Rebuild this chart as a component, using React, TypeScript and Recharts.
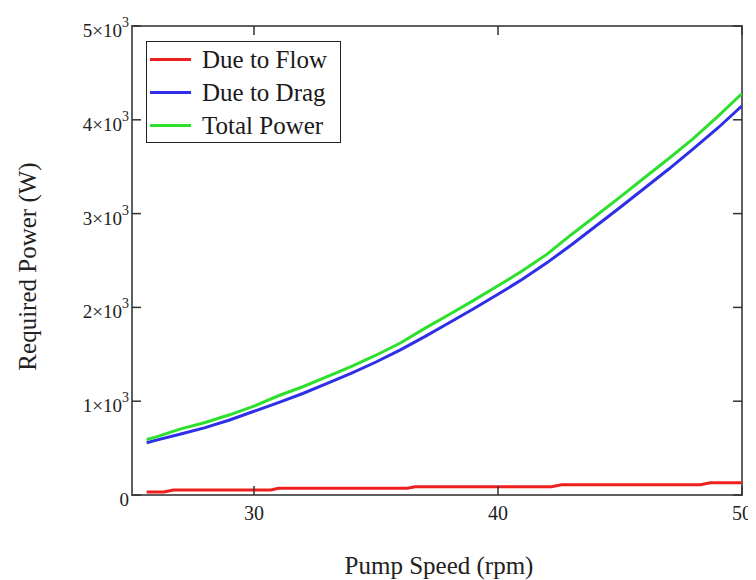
import React from "react";
import { LineChart, Line, XAxis, YAxis, Legend, Label, ReferenceArea } from "recharts";

// ---- data ----
const rpm = [25.6, 26, 27, 28, 29, 30, 31, 32, 33, 34, 35, 36, 37, 38, 39, 40, 41, 42, 43, 44, 45, 46, 47, 48, 49, 50];
const dragPower = [557, 585, 650, 718, 800, 893, 985, 1082, 1190, 1300, 1418, 1548, 1688, 1836, 1985, 2140, 2300, 2475, 2665, 2865, 3065, 3270, 3475, 3690, 3910, 4150];
const totalPower = [592, 620, 705, 773, 855, 948, 1058, 1154, 1262, 1372, 1490, 1620, 1776, 1924, 2075, 2230, 2390, 2565, 2775, 2975, 3175, 3382, 3587, 3800, 4035, 4280];
const flowRpm = [25.6, 26.3, 26.7, 30.7, 31.0, 36.3, 36.6, 42.2, 42.6, 48.3, 48.7, 50];
const flowPower = [32, 32, 53, 53, 71, 71, 88, 88, 110, 110, 131, 131];

const xTicks = [30, 40, 50];
const yTicks = [0, 1000, 2000, 3000, 4000, 5000];
const seriesNames = ["Due to Flow", "Due to Drag", "Total Power"];
const seriesColors = ["#ee1f1f", "#2f2fe8", "#2ee02e"];
const xTitle = "Pump Speed (rpm)";
const yTitle = "Required Power (W)";

const flowData = flowRpm.map((x, i) => ({ x, v: flowPower[i] }));
const dragData = rpm.map((x, i) => ({ x, v: dragPower[i] }));
const totalData = rpm.map((x, i) => ({ x, v: totalPower[i] }));

// ---- layout ----
const CHART_W = 748;
const CHART_H = 572;
const MARGIN = { top: 18, right: 14, bottom: 45, left: 24 };
const X_AXIS_H = 40;
const Y_AXIS_W = 100;
const PLOT_W = CHART_W - MARGIN.left - MARGIN.right - Y_AXIS_W;
const PLOT_H = CHART_H - MARGIN.top - MARGIN.bottom - X_AXIS_H;

const FONT = "'Liberation Serif', 'Times New Roman', serif";
const FRAME = "#5f5f5f";
const TICK_COLOR = "#333";
const TICK_LEN = 9;

const BottomTick = (props: any) => {
  const { x, y, payload } = props;
  const top = y - PLOT_H;
  return (
    <g>
      <line x1={x} y1={y} x2={x} y2={y - TICK_LEN} stroke={TICK_COLOR} strokeWidth={1.5} />
      <line x1={x} y1={top} x2={x} y2={top + TICK_LEN} stroke={TICK_COLOR} strokeWidth={1.5} />
      <text x={x} y={y + 25} textAnchor="middle" fontFamily={FONT} fontSize={20} fill="#222">
        {payload.value}
      </text>
    </g>
  );
};

const LeftTick = (props: any) => {
  const { x, y, payload } = props;
  const v = payload.value as number;
  const m = v / 1000;
  const right = x + PLOT_W;
  return (
    <g>
      <line x1={x} y1={y} x2={x + TICK_LEN} y2={y} stroke={TICK_COLOR} strokeWidth={1.5} />
      <line x1={right} y1={y} x2={right - TICK_LEN} y2={y} stroke={TICK_COLOR} strokeWidth={1.5} />
      <text x={x - 3} y={y + 11} textAnchor="end" fontFamily={FONT} fontSize={19} fill="#222">
        {v === 0 ? (
          "0"
        ) : (
          <>
            {`${m}\u00d710`}
            <tspan dy={-10} fontSize={14}>3</tspan>
          </>
        )}
      </text>
    </g>
  );
};

const LegendBox = () => (
  <div
    style={{
      width: 195,
      height: 102,
      boxSizing: "border-box",
      border: "1.5px solid #222",
      paddingTop: 1,
      background: "#fff",
    }}
  >
    {seriesNames.map((n, i) => (
      <div key={n} style={{ display: "flex", alignItems: "center", height: 33 }}>
        <div style={{ marginLeft: 3, width: 41, height: 3, background: seriesColors[i] }} />
        <span
          style={{
            marginLeft: 11,
            fontFamily: FONT,
            fontSize: 25,
            lineHeight: "33px",
            color: "#1a1a1a",
            whiteSpace: "nowrap",
          }}
        >
          {n}
        </span>
      </div>
    ))}
  </div>
);

export default function App() {
  return (
    <LineChart width={CHART_W} height={CHART_H} margin={MARGIN}>
      <XAxis
        xAxisId="b"
        type="number"
        dataKey="x"
        domain={[25, 50]}
        ticks={xTicks}
        allowDataOverflow
        orientation="bottom"
        height={X_AXIS_H}
        tickSize={0}
        tickMargin={0}
        tickLine={false}
        axisLine={{ stroke: FRAME, strokeWidth: 2 }}
        tick={BottomTick}
        interval={0}
      >
        <Label
          content={(p: any) => {
            const vb = p.viewBox;
            return (
              <text x={vb.x + vb.width / 2 + 2} y={vb.y + 79} textAnchor="middle" fontFamily={FONT} fontSize={25} fill="#222">
                {xTitle}
              </text>
            );
          }}
        />
      </XAxis>
      <YAxis
        yAxisId="l"
        type="number"
        domain={[0, 5000]}
        ticks={yTicks}
        allowDataOverflow
        width={Y_AXIS_W}
        tickSize={0}
        tickMargin={0}
        tickLine={false}
        axisLine={{ stroke: FRAME, strokeWidth: 2 }}
        tick={LeftTick}
        interval={0}
      >
        <Label
          content={(p: any) => {
            const vb = p.viewBox;
            const cx = vb.x + 4;
            const cy = vb.y + vb.height / 2 + 6;
            return (
              <text x={cx} y={cy} transform={`rotate(-90, ${cx}, ${cy})`} textAnchor="middle" fontFamily={FONT} fontSize={25} fill="#222">
                {yTitle}
              </text>
            );
          }}
        />
      </YAxis>
      <ReferenceArea
        xAxisId="b"
        yAxisId="l"
        x1={25}
        x2={50}
        y1={0}
        y2={5000}
        fill="none"
        fillOpacity={0}
        stroke={FRAME}
        strokeWidth={2}
        strokeOpacity={1}
        ifOverflow="visible"
      />
      <Legend
        layout="vertical"
        align="center"
        verticalAlign="middle"
        content={() => <LegendBox />}
        wrapperStyle={{ position: "absolute", left: 138, top: 33, width: 195, height: 102 }}
      />
      <Line
        xAxisId="b"
        yAxisId="l"
        data={flowData}
        dataKey="v"
        name={seriesNames[0]}
        stroke={seriesColors[0]}
        strokeWidth={3}
        dot={false}
        type="linear"
        isAnimationActive={false}
      />
      <Line
        xAxisId="b"
        yAxisId="l"
        data={dragData}
        dataKey="v"
        name={seriesNames[1]}
        stroke={seriesColors[1]}
        strokeWidth={3}
        dot={false}
        type="linear"
        isAnimationActive={false}
      />
      <Line
        xAxisId="b"
        yAxisId="l"
        data={totalData}
        dataKey="v"
        name={seriesNames[2]}
        stroke={seriesColors[2]}
        strokeWidth={3}
        dot={false}
        type="linear"
        isAnimationActive={false}
      />
    </LineChart>
  );
}
